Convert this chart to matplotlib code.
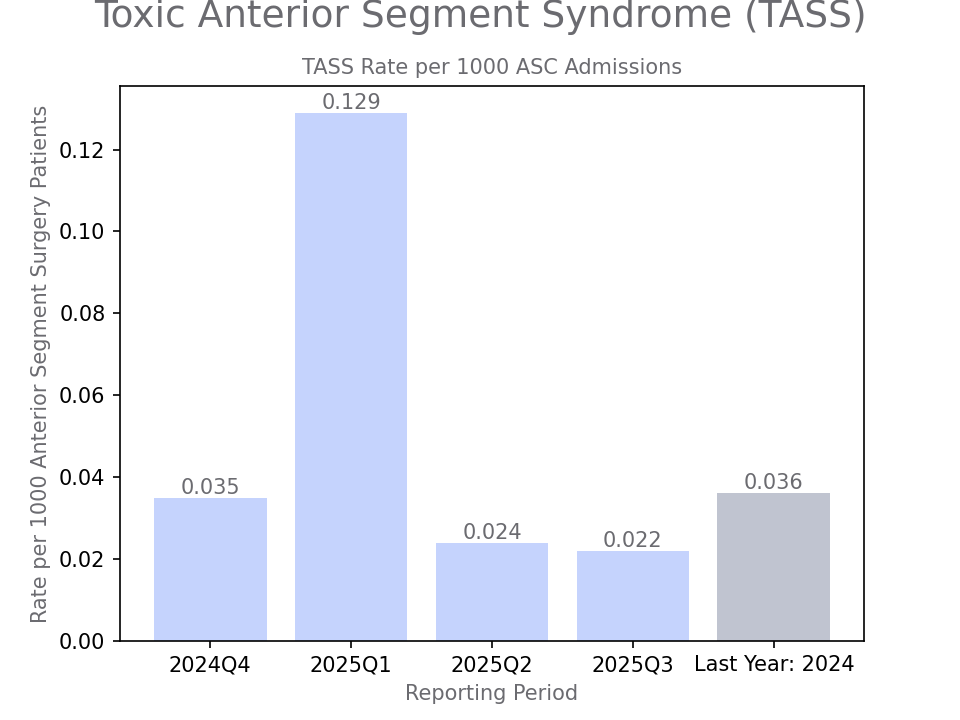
import matplotlib
matplotlib.use('Agg')
import matplotlib.pyplot as plt

periods = ['2024Q4', '2025Q1', '2025Q2', '2025Q3', 'Last Year: 2024']
rates = [0.035, 0.129, 0.024, 0.022, 0.036]
bar_colors = ['#c5d3fd', '#c5d3fd', '#c5d3fd', '#c5d3fd', '#c0c4d0']

grey = '#6b6b70'

fig, ax = plt.subplots(figsize=(6.4, 4.8), dpi=150)
bars = ax.bar(periods, rates, color=bar_colors)

for bar, v in zip(bars, rates):
    ax.text(bar.get_x() + bar.get_width() / 2, bar.get_height(),
            f'{v:.3f}', ha='center', va='bottom', fontsize=10, color=grey)

fig.text(0.5, 0.977, 'Toxic Anterior Segment Syndrome (TASS)', ha='center', va='center',
         fontsize=18, color=grey)
ax.set_title('TASS Rate per 1000 ASC Admissions', fontsize=10, color=grey)
ax.set_xlabel('Reporting Period', fontsize=10, color=grey)
ax.set_ylabel('Rate per 1000 Anterior Segment Surgery Patients', fontsize=10, color=grey)

plt.savefig('out.png', dpi=150)
